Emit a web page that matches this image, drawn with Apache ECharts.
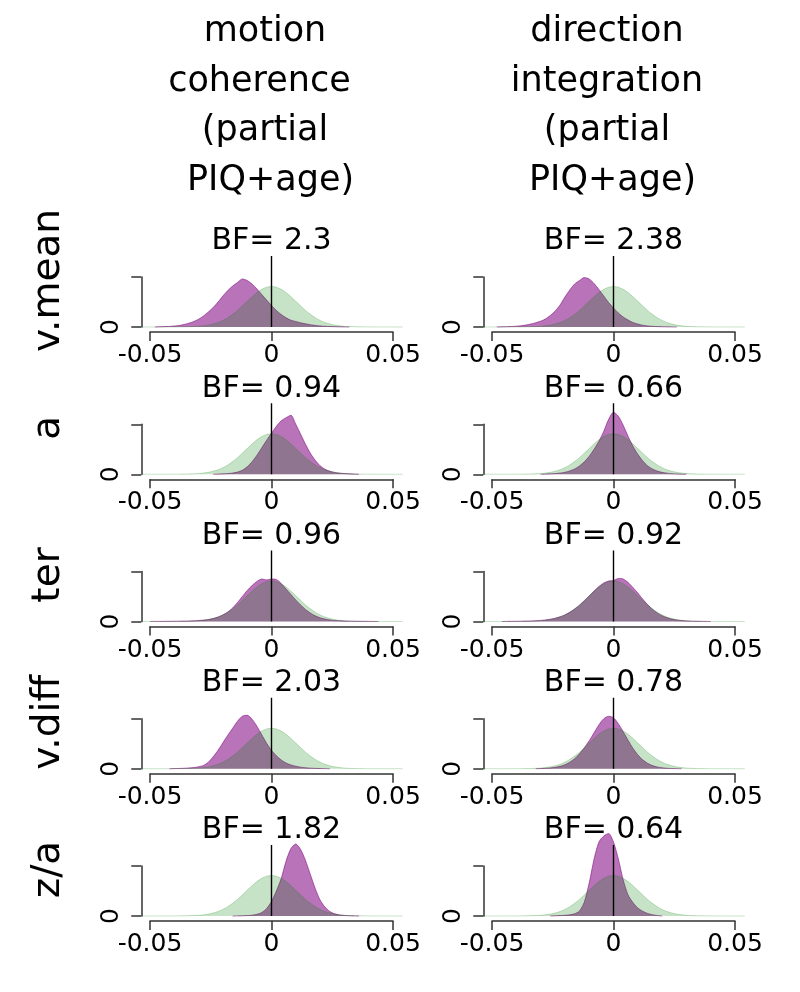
<!DOCTYPE html>
<html><head><meta charset="utf-8">
<script src="https://cdn.jsdelivr.net/npm/echarts@6/dist/echarts.min.js"></script>
<style>html,body{margin:0;padding:0;background:#fff}#chart{width:800px;height:992px}</style>
</head><body><div id="chart"></div>
<script>
// ---------- DATA ----------
const columnTitles = ['motion\ncoherence \n(partial\n PIQ+age)', 'direction\nintegration\n(partial\n PIQ+age)'];
const rowLabels = ['v.mean', 'a', 'ter', 'v.diff', 'z/a'];
const bfMotion = [2.3, 0.94, 0.96, 2.03, 1.82];
const bfDirection = [2.38, 0.66, 0.92, 0.78, 0.64];
const xTicks = [-0.05, 0, 0.05];
const yTicks = [0, 50];

// density sample positions (shared by all curves)
const xGrid = [
  -0.054,-0.052,-0.050,-0.048,-0.046,-0.044,-0.042,-0.040,-0.038,-0.036,-0.034,
  -0.032,-0.030,-0.028,-0.026,-0.024,-0.022,-0.020,-0.018,-0.016,-0.014,-0.012,
  -0.010,-0.008,-0.006,-0.004,-0.002,0,0.002,0.004,0.006,0.008,0.010,
  0.012,0.014,0.016,0.018,0.020,0.022,0.024,0.026,0.028,0.030,0.032,
  0.034,0.036,0.038,0.040,0.042,0.044,0.046,0.048,0.050,0.052,0.054
];

// green: prior density (same in every panel)
const priorDensity = [
  0.01,0.02,0.02,0.03,0.04,0.05,0.06,0.08,0.1,0.15,0.25,
  0.4,0.7,1.2,1.9,3.0,4.5,6.6,9.3,12.7,16.6,21.1,
  25.7,30.3,34.4,37.7,39.8,40.5,39.8,37.7,34.4,30.3,25.7,
  21.1,16.6,12.7,9.3,6.6,4.5,3.0,1.9,1.2,0.7,0.4,
  0.25,0.15,0.1,0.08,0.06,0.05,0.04,0.03,0.02,0.02,0.01
];

// purple: posterior densities
const postVmeanMotion = [
  null,null,null,0,0.2,0.4,0.6,1.0,1.6,2.5,3.8,
  5.5,7.8,11,15,19.5,25,31,36.5,41,44.5,48,
  46.5,43,38,32.5,27,21.5,16.5,12.5,9.2,6.8,5.5,
  4.2,3.2,2.3,1.6,1.1,0.7,0.45,0.3,0.15,0.08,0,
  null,null,null,null,null,null,null,null,null,null,null
];
const postVmeanDirection = [
  null,null,null,0,0.2,0.3,0.5,0.8,1.3,2,3,
  4.3,5.8,8,11.5,16,22,30,37,43,46.5,49.5,
  48,43.5,37.5,31,24.5,19,14,10,7,4.5,3,
  1.8,1.1,0.7,0.4,0.25,0.15,0.08,0,null,null,null,
  null,null,null,null,null,null,null,null,null,null,null
];
const postAMotion = [
  null,null,null,null,null,null,null,null,null,null,null,
  null,null,null,null,0,0.2,0.4,0.7,1.2,2.2,4,
  7.5,12.5,19,26.5,34,41,48,53.5,56.5,59,50,
  40,30,21,14,8.5,5,3,1.8,1.1,0.7,0.4,
  0.2,0,null,null,null,null,null,null,null,null,null
];
const postADirection = [
  null,null,null,null,null,null,null,null,null,null,null,
  null,0,0.2,0.4,0.7,1.2,2,3.3,5.3,8.3,12.5,
  18,25,33,43,55,62,58,49,38,28,20,
  13.5,8.5,5.3,3.2,1.9,1.1,0.6,0.3,0.15,0,null,
  null,null,null,null,null,null,null,null,null,null,null
];
const postTerMotion = [
  null,null,0,0.1,0.1,0.15,0.2,0.25,0.3,0.4,0.5,
  0.7,1.0,1.4,2.0,3.0,4.5,6.6,9.5,13.5,19,25,
  31,36,40,42.5,41.5,42.5,42,38,32.5,27,21.5,
  16.5,12,8.5,5.7,3.7,2.4,1.6,1.0,0.7,0.5,0.35,
  0.25,0.2,0.15,0.1,0.05,0,null,null,null,null,null
];
const postTerDirection = [
  null,null,null,null,0,0.1,0.15,0.2,0.3,0.4,0.55,
  0.8,1.1,1.6,2.3,3.3,4.7,6.6,9.2,12.4,16.3,20.8,
  25.6,30.4,35,38.5,40.5,41,43,42.5,39,34,28.5,
  22.5,17,12.3,8.6,5.8,3.8,2.4,1.5,0.9,0.55,0.35,
  0.2,0.12,0.05,0,null,null,null,null,null,null,null
];
const postVdiffMotion = [
  null,null,null,null,null,null,0,0.2,0.3,0.5,0.8,
  1.2,2,3.3,6.5,12,18.5,26,33.5,40.5,47.5,52.5,
  53.5,49.5,42.5,34,25.5,18.5,13,8.8,5.8,3.8,2.5,
  1.6,1,0.6,0.4,0.25,0.12,0,null,null,null,null,
  null,null,null,null,null,null,null,null,null,null,null
];
const postVdiffDirection = [
  null,null,null,null,null,null,null,null,null,null,null,
  0,0.2,0.4,0.8,1.4,2.4,4,6.5,10,15,21,
  28,36,44,50,52.5,51,45,37,28.5,20.5,14,
  9,5.5,3.2,1.8,1,0.5,0.25,0.1,0,null,null,
  null,null,null,null,null,null,null,null,null,null,null
];
const postZaMotion = [
  null,null,null,null,null,null,null,null,null,null,null,
  null,null,null,null,null,null,null,null,0,0.1,0.2,
  0.4,0.8,1.7,3.5,7.5,14.5,25,37.5,55,67.5,72,
  66.5,55.5,41.5,27.5,16,9,4.5,2.2,1.1,0.5,0.25,
  0.1,0,null,null,null,null,null,null,null,null,null
];
const postZaDirection = [
  null,null,null,null,null,null,null,null,null,null,null,
  null,null,null,0,0.2,0.4,0.7,1.2,2.2,5,14,
  33,57,74,80,82.5,74,57,36,21,13.5,8,
  4.8,2.6,1.3,0.5,0,null,null,null,null,null,null,
  null,null,null,null,null,null,null,null,null,null,null
];

const posteriors = [
  [postVmeanMotion, postVmeanDirection],
  [postAMotion, postADirection],
  [postTerMotion, postTerDirection],
  [postVdiffMotion, postVdiffDirection],
  [postZaMotion, postZaDirection]
];
const bfs = [bfMotion, bfDirection];

// ---------- LAYOUT ----------
const FONT = '"DejaVu Sans", "Liberation Sans", sans-serif';
const ROW0 = 327, ROWSTEP = 147.25;
const COLZERO = [271.5, 613.5];
const PXU = 2430;           // pixels per x unit
const XMIN = -0.054, XMAX = 0.054;
const PLOT_TOP = 71;        // y units above baseline (1 unit = 1 px)
const axisLineStyle = { color: '#333', width: 1.5 };
const purpleCol = 'rgba(128,0,128,0.55)';
const greenCol = 'rgba(0,128,0,0.22)';

const grid = [], xAxis = [], yAxis = [], series = [], title = [], elements = [];

function toPairs(arr) {
  const out = [];
  arr.forEach((v, i) => { if (v !== null) out.push([xGrid[i], v]); });
  return out;
}

for (let r = 0; r < rowLabels.length; r++) {
  const base = ROW0 + r * ROWSTEP;
  for (let c = 0; c < 2; c++) {
    const z0 = COLZERO[c];
    const gi = grid.length;
    const dataLeft = z0 + XMIN * PXU;
    // data grid
    grid.push({ left: dataLeft, top: base - PLOT_TOP, width: (XMAX - XMIN) * PXU, height: PLOT_TOP, outerBoundsMode: 'none' });
    xAxis.push({ gridIndex: gi, type: 'value', min: XMIN, max: XMAX, show: false });
    yAxis.push({ gridIndex: gi, type: 'value', min: 0, max: PLOT_TOP, show: false });
    series.push({
      type: 'line', xAxisIndex: gi, yAxisIndex: gi, data: toPairs(posteriors[r][c]),
      showSymbol: false, symbol: 'none', smooth: 0.25, clip: false, z: 2, silent: true,
      lineStyle: { color: purpleCol, width: 1 },
      areaStyle: { color: purpleCol, opacity: 1 }
    });
    series.push({
      type: 'line', xAxisIndex: gi, yAxisIndex: gi, data: toPairs(priorDensity),
      showSymbol: false, symbol: 'none', smooth: 0.25, clip: false, z: 3, silent: true,
      lineStyle: { color: greenCol, width: 1 },
      areaStyle: { color: greenCol, opacity: 1 },
      markLine: {
        silent: true, symbol: ['none', 'none'], z: 5,
        label: { show: false },
        lineStyle: { color: '#000', width: 1.4, type: 'solid' },
        data: [{ xAxis: 0 }]
      }
    });
    // x-axis grid (axis spans first to last tick)
    grid.push({ left: z0 + xTicks[0] * PXU, top: base + 4, width: (xTicks[2] - xTicks[0]) * PXU, height: 1, outerBoundsMode: 'none' });
    xAxis.push({
      gridIndex: gi + 1, type: 'value', min: xTicks[0], max: xTicks[2], interval: xTicks[2] - xTicks[1],
      position: 'bottom',
      axisLine: { show: true, onZero: false, lineStyle: axisLineStyle },
      axisTick: { show: true, inside: false, length: 9, lineStyle: axisLineStyle },
      axisLabel: {
        show: true, margin: 11, fontSize: 25, fontFamily: FONT, color: '#000',
        showMinLabel: true, showMaxLabel: true, hideOverlap: false,
        formatter: v => { const t = xTicks.find(k => Math.abs(k - v) < 1e-9); return t === 0 ? '0' : String(t); }
      },
      splitLine: { show: false }
    });
    yAxis.push({ gridIndex: gi + 1, type: 'value', min: 0, max: 1, show: false });
    // y bracket grid
    grid.push({ left: dataLeft + 1, top: base - yTicks[1], width: 1, height: yTicks[1], outerBoundsMode: 'none' });
    xAxis.push({ gridIndex: gi + 2, type: 'value', min: 0, max: 1, show: false });
    yAxis.push({
      gridIndex: gi + 2, type: 'value', min: yTicks[0], max: yTicks[1], interval: yTicks[1] - yTicks[0],
      position: 'left',
      axisLine: { show: true, onZero: false, lineStyle: axisLineStyle },
      axisTick: { show: true, inside: false, length: 10, lineStyle: axisLineStyle },
      axisLabel: {
        show: true, rotate: 90, margin: 17, fontSize: 25, fontFamily: FONT, color: '#000',
        showMinLabel: true, showMaxLabel: true,
        formatter: v => (v === 0 ? '0' : '')
      },
      splitLine: { show: false }
    });
    // BF title
    title.push({
      text: 'BF= ' + bfs[c][r], left: z0, top: base - 85.5, padding: 0,
      textAlign: 'center', textVerticalAlign: 'middle',
      textStyle: { fontFamily: FONT, fontSize: 30, fontWeight: 'normal', color: '#000' }
    });
  }
  // row label
  elements.push({
    type: 'text', x: 48.5, y: base - 46.5, rotation: Math.PI / 2, silent: true,
    style: { text: rowLabels[r], font: '39px ' + FONT, fill: '#000', align: 'center', verticalAlign: 'middle' }
  });
}
// column titles
for (let c = 0; c < 2; c++) {
  elements.push({
    type: 'text', x: COLZERO[c] - 6.5, y: 106.5, silent: true,
    style: { text: columnTitles[c], font: '35px ' + FONT, lineHeight: 49.7, fill: '#000', align: 'center', verticalAlign: 'middle' }
  });
}

const chart = echarts.init(document.getElementById('chart'), null, { renderer: 'canvas' });
chart.setOption({
  animation: false,
  backgroundColor: '#fff',
  title, grid, xAxis, yAxis, series,
  graphic: { elements }
});
</script>
</body></html>
